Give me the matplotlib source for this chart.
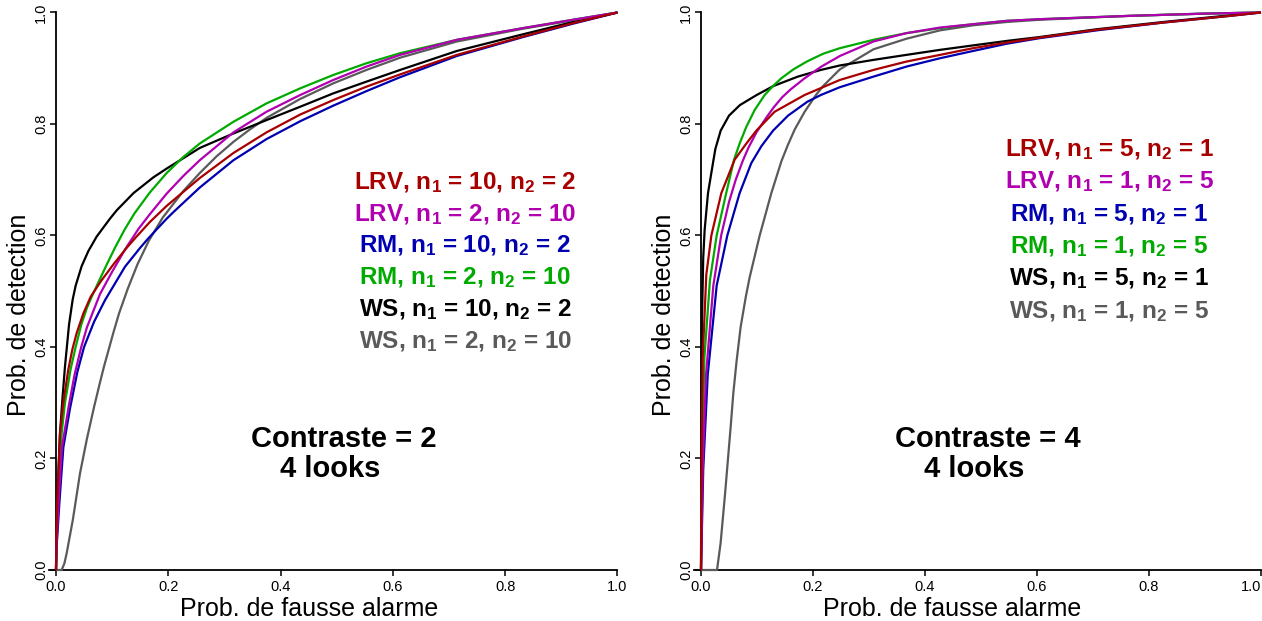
import matplotlib
matplotlib.use("Agg")
import matplotlib.pyplot as plt

plt.rcParams["font.family"] = ["Liberation Sans", "DejaVu Sans"]
plt.rcParams["mathtext.fontset"] = "custom"
plt.rcParams["mathtext.rm"] = "Liberation Sans:bold"
plt.rcParams["mathtext.it"] = "Liberation Sans:bold"
plt.rcParams["mathtext.bf"] = "Liberation Sans:bold"
plt.rcParams["mathtext.default"] = "rm"

# ---- contraste = 2 (left panel) : prob. fausse alarme / prob. detection ----
pfa_c2_lrv_10_2 = [0, 0.0008, 0.0024, 0.0071, 0.013, 0.022, 0.029, 0.0368, 0.0487, 0.0617, 0.08, 0.1021,
                   0.126, 0.1425, 0.167, 0.197, 0.256, 0.316, 0.375, 0.435, 0.494, 0.553, 0.613, 0.714,
                   0.832, 0.921, 1.0]
pd_c2_lrv_10_2 = [0, 0.07, 0.13, 0.245, 0.30, 0.36, 0.395, 0.425, 0.46, 0.49, 0.518, 0.548,
                  0.578, 0.597, 0.624, 0.653, 0.703, 0.748, 0.785, 0.817, 0.843, 0.867, 0.889, 0.924,
                  0.957, 0.981, 1.0]

pfa_c2_lrv_2_10 = [0, 0.001, 0.0048, 0.0107, 0.022, 0.033, 0.045, 0.055, 0.0784, 0.1, 0.123, 0.147,
                   0.167, 0.197, 0.227, 0.256, 0.316, 0.375, 0.435, 0.494, 0.553, 0.613, 0.714, 0.832,
                   0.921, 1.0]
pd_c2_lrv_2_10 = [0, 0.05, 0.126, 0.22, 0.29, 0.35, 0.40, 0.435, 0.495, 0.535, 0.575, 0.612,
                  0.638, 0.675, 0.707, 0.735, 0.785, 0.822, 0.852, 0.879, 0.903, 0.924, 0.951, 0.972,
                  0.987, 1.0]

pfa_c2_rm_10_2 = [0, 0.001, 0.006, 0.0131, 0.025, 0.038, 0.05, 0.0677, 0.0873, 0.1229, 0.150, 0.1645,
                  0.197, 0.2102, 0.256, 0.316, 0.375, 0.435, 0.494, 0.553, 0.613, 0.714, 0.832, 0.921,
                  1.0]
pd_c2_rm_10_2 = [0, 0.04, 0.12, 0.22, 0.29, 0.355, 0.40, 0.445, 0.484, 0.544, 0.578, 0.595,
                 0.63, 0.643, 0.686, 0.735, 0.773, 0.805, 0.833, 0.859, 0.884, 0.922, 0.956, 0.980,
                 1.0]

pfa_c2_rm_2_10 = [0, 0.002, 0.0042, 0.0101, 0.016, 0.026, 0.035, 0.045, 0.055, 0.0635, 0.075, 0.0914,
                  0.105, 0.123, 0.14, 0.167, 0.197, 0.227, 0.256, 0.316, 0.375, 0.435, 0.494, 0.553,
                  0.613, 0.714, 0.832, 0.921, 1.0]
pd_c2_rm_2_10 = [0, 0.07, 0.126, 0.245, 0.30, 0.36, 0.40, 0.44, 0.47, 0.49, 0.515, 0.55,
                 0.578, 0.612, 0.64, 0.677, 0.712, 0.741, 0.765, 0.804, 0.837, 0.864, 0.888, 0.909,
                 0.927, 0.951, 0.972, 0.987, 1.0]

pfa_c2_ws_10_2 = [0, 0.001, 0.0024, 0.0071, 0.0113, 0.016, 0.0232, 0.0297, 0.035, 0.0457, 0.0576, 0.0724,
                  0.096, 0.108, 0.138, 0.173, 0.197, 0.256, 0.316, 0.375, 0.435, 0.494, 0.553, 0.613,
                  0.714, 0.832, 0.921, 1.0]
pd_c2_ws_10_2 = [0, 0.06, 0.126, 0.245, 0.305, 0.365, 0.44, 0.485, 0.51, 0.545, 0.572, 0.598,
                 0.63, 0.645, 0.676, 0.704, 0.720, 0.757, 0.783, 0.807, 0.831, 0.855, 0.876, 0.897,
                 0.931, 0.961, 0.983, 1.0]

pfa_c2_ws_2_10 = [0, 0.0101, 0.015, 0.019, 0.03, 0.0427, 0.055, 0.0677, 0.078, 0.0855, 0.102, 0.1122,
                  0.128, 0.145, 0.165, 0.19, 0.227, 0.256, 0.286, 0.316, 0.345, 0.375, 0.435, 0.494,
                  0.553, 0.613, 0.714, 0.832, 0.921, 1.0]
pd_c2_ws_2_10 = [0, 0, 0.012, 0.03, 0.09, 0.173, 0.235, 0.292, 0.335, 0.365, 0.425, 0.46,
                 0.505, 0.548, 0.59, 0.632, 0.68, 0.712, 0.742, 0.768, 0.79, 0.811, 0.845, 0.873,
                 0.897, 0.919, 0.948, 0.971, 0.986, 1.0]

# ---- contraste = 4 (right panel) ----
pfa_c4_lrv_5_1 = [0, 0.001, 0.003, 0.0095, 0.0185, 0.0363, 0.0601, 0.081, 0.0988, 0.1315, 0.185, 0.248,
                  0.308, 0.367, 0.427, 0.486, 0.546, 0.605, 0.707, 0.826, 0.945, 1.0]
pd_c4_lrv_5_1 = [0, 0.20, 0.38, 0.53, 0.60, 0.676, 0.736, 0.765, 0.788, 0.822, 0.852, 0.879,
                 0.897, 0.912, 0.924, 0.936, 0.946, 0.955, 0.969, 0.982, 0.994, 1.0]

pfa_c4_lrv_1_5 = [0, 0.003, 0.009, 0.022, 0.036, 0.05, 0.062, 0.075, 0.085, 0.099, 0.117, 0.13,
                  0.145, 0.16, 0.185, 0.215, 0.248, 0.308, 0.367, 0.427, 0.486, 0.546, 0.605, 0.766,
                  0.9, 1.0]
pd_c4_lrv_1_5 = [0, 0.18, 0.35, 0.51, 0.60, 0.66, 0.70, 0.735, 0.758, 0.785, 0.812, 0.83,
                 0.848, 0.862, 0.882, 0.903, 0.922, 0.948, 0.963, 0.973, 0.979, 0.985, 0.988, 0.994,
                 0.998, 1.0]

pfa_c4_rm_5_1 = [0, 0.004, 0.012, 0.028, 0.047, 0.069, 0.0899, 0.1077, 0.1286, 0.1554, 0.19, 0.214,
                 0.248, 0.308, 0.367, 0.427, 0.486, 0.546, 0.605, 0.707, 0.826, 0.945, 1.0]
pd_c4_rm_5_1 = [0, 0.18, 0.35, 0.51, 0.60, 0.676, 0.730, 0.760, 0.788, 0.815, 0.84, 0.852,
                0.866, 0.885, 0.903, 0.918, 0.931, 0.944, 0.954, 0.968, 0.982, 0.994, 1.0]

pfa_c4_rm_1_5 = [0, 0.002, 0.006, 0.016, 0.028, 0.045, 0.059, 0.069, 0.081, 0.0958, 0.1137, 0.1286,
                 0.1435, 0.165, 0.189, 0.218, 0.248, 0.308, 0.367, 0.427, 0.486, 0.546, 0.605, 0.766,
                 0.9, 1.0]
pd_c4_rm_1_5 = [0, 0.20, 0.38, 0.52, 0.60, 0.676, 0.736, 0.765, 0.795, 0.825, 0.852, 0.868,
                0.882, 0.898, 0.912, 0.926, 0.936, 0.951, 0.963, 0.972, 0.979, 0.985, 0.988, 0.994,
                0.998, 1.0]

pfa_c4_ws_5_1 = [0, 0.0008, 0.0018, 0.004, 0.0065, 0.0125, 0.0214, 0.0256, 0.0351, 0.05, 0.0696, 0.0994,
                 0.129, 0.173, 0.214, 0.248, 0.308, 0.367, 0.427, 0.486, 0.546, 0.605, 0.707, 0.826,
                 0.945, 1.0]
pd_c4_ws_5_1 = [0, 0.25, 0.45, 0.56, 0.61, 0.676, 0.73, 0.755, 0.788, 0.815, 0.834, 0.852,
                0.868, 0.885, 0.897, 0.905, 0.915, 0.924, 0.933, 0.941, 0.949, 0.956, 0.970, 0.983,
                0.995, 1.0]

pfa_c4_ws_1_5 = [0, 0.0286, 0.035, 0.043, 0.053, 0.0577, 0.0637, 0.0708, 0.08, 0.0869, 0.1048, 0.1256,
                 0.1435, 0.1554, 0.1673, 0.1851, 0.206, 0.218, 0.248, 0.308, 0.367, 0.427, 0.486, 0.546,
                 0.605, 0.766, 0.9, 1.0]
pd_c4_ws_1_5 = [0, 0, 0.048, 0.137, 0.257, 0.317, 0.376, 0.436, 0.49, 0.525, 0.60, 0.676,
                0.733, 0.763, 0.79, 0.822, 0.853, 0.868, 0.898, 0.934, 0.953, 0.968, 0.977, 0.983,
                0.987, 0.994, 0.998, 1.0]

tick_vals = [0.0, 0.2, 0.4, 0.6, 0.8, 1.0]
tick_labels = ["0.0", "0.2", "0.4", "0.6", "0.8", "1.0"]

RED = "#a80000"
MAGENTA = "#b000b0"
BLUE = "#0000b0"
GREEN = "#00aa00"
BLACK = "#000000"
GREY = "#5a5a5a"

# legend order (top to bottom) as in the picture; drawing order is reversed
left_curves = [
    ("LRV, n$_1$ = 10, n$_2$ = 2", RED, pfa_c2_lrv_10_2, pd_c2_lrv_10_2),
    ("LRV, n$_1$ = 2, n$_2$ = 10", MAGENTA, pfa_c2_lrv_2_10, pd_c2_lrv_2_10),
    ("RM, n$_1$ = 10, n$_2$ = 2", BLUE, pfa_c2_rm_10_2, pd_c2_rm_10_2),
    ("RM, n$_1$ = 2, n$_2$ = 10", GREEN, pfa_c2_rm_2_10, pd_c2_rm_2_10),
    ("WS, n$_1$ = 10, n$_2$ = 2", BLACK, pfa_c2_ws_10_2, pd_c2_ws_10_2),
    ("WS, n$_1$ = 2, n$_2$ = 10", GREY, pfa_c2_ws_2_10, pd_c2_ws_2_10),
]
right_curves = [
    ("LRV, n$_1$ = 5, n$_2$ = 1", RED, pfa_c4_lrv_5_1, pd_c4_lrv_5_1),
    ("LRV, n$_1$ = 1, n$_2$ = 5", MAGENTA, pfa_c4_lrv_1_5, pd_c4_lrv_1_5),
    ("RM, n$_1$ = 5, n$_2$ = 1", BLUE, pfa_c4_rm_5_1, pd_c4_rm_5_1),
    ("RM, n$_1$ = 1, n$_2$ = 5", GREEN, pfa_c4_rm_1_5, pd_c4_rm_1_5),
    ("WS, n$_1$ = 5, n$_2$ = 1", BLACK, pfa_c4_ws_5_1, pd_c4_ws_5_1),
    ("WS, n$_1$ = 1, n$_2$ = 5", GREY, pfa_c4_ws_1_5, pd_c4_ws_1_5),
]

fig = plt.figure(figsize=(12.62, 6.21), dpi=100)
ax_l = fig.add_axes([0.03903, 0.08213, 0.45027, 0.89775])
ax_r = fig.add_axes([0.55014, 0.08213, 0.44906, 0.89775])


def style_axes(ax):
    ax.set_xlim(-0.012, 1.0)
    ax.set_ylim(0, 1.0)
    for s in ("top", "right"):
        ax.spines[s].set_visible(False)
    ax.spines["left"].set_position(("data", 0))
    ax.spines["left"].set_linewidth(1.3)
    ax.spines["bottom"].set_linewidth(1.3)
    ax.set_xticks(tick_vals)
    ax.set_xticklabels(tick_labels)
    ax.set_yticks(tick_vals)
    ax.set_yticklabels(tick_labels, rotation=90, va="center")
    ax.tick_params(direction="out", length=4, width=1.1, labelsize=10.5)
    ax.tick_params(axis="x", pad=3)
    ax.tick_params(axis="y", pad=1.8)


for ax, curves in ((ax_l, left_curves), (ax_r, right_curves)):
    style_axes(ax)
    for lab, col, xs, ys in curves[::-1]:
        ax.plot(xs, ys, color=col, lw=1.6, clip_on=False, zorder=3, solid_capstyle="butt")

# last x tick label of the right panel sits against the figure edge
ax_r.get_xticklabels()[-1].set_horizontalalignment("right")

for ax, curves, y_top, step in ((ax_l, left_curves, 0.6835, 0.057),
                                (ax_r, right_curves, 0.7425, 0.058)):
    for i, (lab, col, _, _) in enumerate(curves):
        ax.text(0.729, y_top - i * step, lab, color=col, fontsize=17.5, fontweight="bold",
                ha="center", va="baseline")

ax_l.text(0.512, 0.220, "Contraste = 2", fontsize=21, fontweight="bold", ha="center", va="baseline")
ax_l.text(0.488, 0.166, "4 looks", fontsize=21, fontweight="bold", ha="center", va="baseline")
ax_r.text(0.5125, 0.220, "Contraste = 4", fontsize=21, fontweight="bold", ha="center", va="baseline")
ax_r.text(0.4875, 0.166, "4 looks", fontsize=21, fontweight="bold", ha="center", va="baseline")

W, H = 1262.0, 621.0
for xc in (309, 952):
    fig.text(xc / W, (H - 616) / H, "Prob. de fausse alarme", fontsize=18, ha="center", va="baseline")
for xc in (19.5, 664):
    fig.text(xc / W, 1 - 315 / H, "Prob. de detection", fontsize=18, rotation=90,
             ha="center", va="center")

fig.savefig("out.png", dpi=100)
